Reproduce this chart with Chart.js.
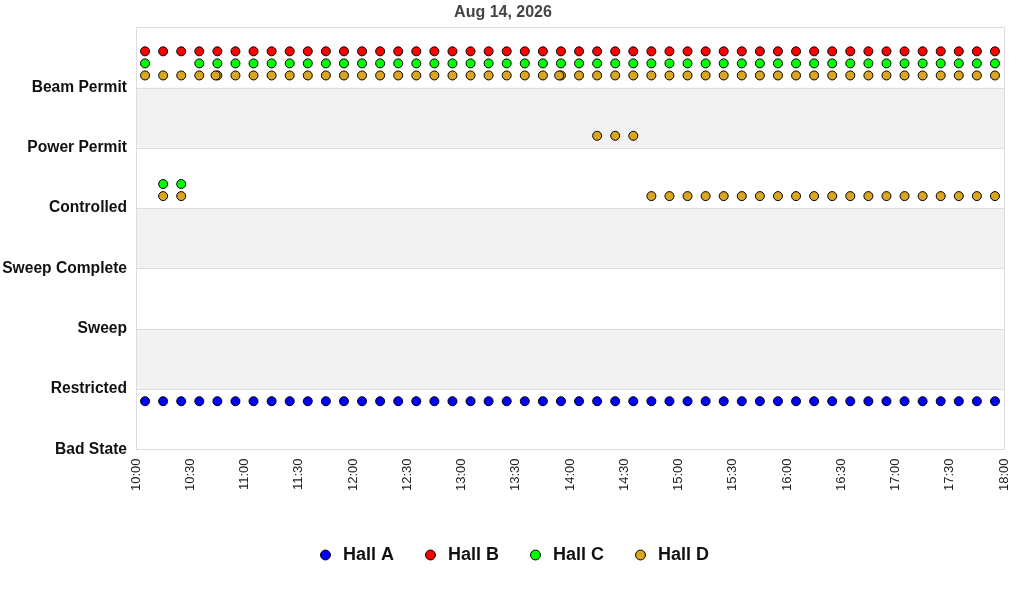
<!DOCTYPE html>
<html>
<head>
<meta charset="utf-8">
<script src="https://cdn.jsdelivr.net/npm/chart.js@4.4.1/dist/chart.umd.min.js"></script>
<style>
  html, body { margin: 0; padding: 0; background: #fff; }
  #wrap { width: 1024px; height: 600px; }
</style>
</head>
<body>
<div id="wrap"><canvas id="hall-chart"></canvas></div>
<script>
// state names, bottom to top (the y value of each is its index)
const states = ['Bad State', 'Restricted', 'Sweep', 'Sweep Complete', 'Controlled', 'Power Permit', 'Beam Permit'];

// sample times (every 10 minutes)
const sampleTimes = [
  '10:05', '10:15', '10:25', '10:35', '10:45', '10:55',
  '11:05', '11:15', '11:25', '11:35', '11:45', '11:55',
  '12:05', '12:15', '12:25', '12:35', '12:45', '12:55',
  '13:05', '13:15', '13:25', '13:35', '13:45', '13:55',
  '14:05', '14:15', '14:25', '14:35', '14:45', '14:55',
  '15:05', '15:15', '15:25', '15:35', '15:45', '15:55',
  '16:05', '16:15', '16:25', '16:35', '16:45', '16:55',
  '17:05', '17:15', '17:25', '17:35', '17:45', '17:55'
];

// state index per sample, one array per hall
const hallA = [0,0,0,0,0,0, 0,0,0,0,0,0, 0,0,0,0,0,0, 0,0,0,0,0,0, 0,0,0,0,0,0, 0,0,0,0,0,0, 0,0,0,0,0,0, 0,0,0,0,0,0];
const hallB = [6,6,6,6,6,6, 6,6,6,6,6,6, 6,6,6,6,6,6, 6,6,6,6,6,6, 6,6,6,6,6,6, 6,6,6,6,6,6, 6,6,6,6,6,6, 6,6,6,6,6,6];
const hallC = [6,4,4,6,6,6, 6,6,6,6,6,6, 6,6,6,6,6,6, 6,6,6,6,6,6, 6,6,6,6,6,6, 6,6,6,6,6,6, 6,6,6,6,6,6, 6,6,6,6,6,6];
const hallD = [6,6,6,6,6,6, 6,6,6,6,6,6, 6,6,6,6,6,6, 6,6,6,6,6,6, 6,6,6,6,6,6, 6,6,6,6,6,6, 6,6,6,6,6,6, 6,6,6,6,6,6];

// Hall D also reports a second state at these times
const hallDExtraTimes = [
  '10:15', '10:25', '10:44', '13:54', '14:15', '14:25', '14:35',
  '14:45', '14:55', '15:05', '15:15', '15:25', '15:35', '15:45', '15:55',
  '16:05', '16:15', '16:25', '16:35', '16:45', '16:55',
  '17:05', '17:15', '17:25', '17:35', '17:45', '17:55'
];
const hallDExtraStates = [
  4, 4, 6, 6, 5, 5, 5,
  4, 4, 4, 4, 4, 4, 4, 4,
  4, 4, 4, 4, 4, 4,
  4, 4, 4, 4, 4, 4
];

const halls = ['Hall A', 'Hall B', 'Hall C', 'Hall D'];
const hallColors = ['#0000ff', '#ff0000', '#00ff00', '#daa520'];
// each hall sits a little above its state line so they don't overlap
const hallOffsets = [0.8, 0.6, 0.4, 0.2];

const xMin = '10:00';
const xMax = '18:00';

const toMinutes = (t) => {
  const [h, m] = t.split(':').map(Number);
  return h * 60 + m;
};
const fmtTime = (v) => {
  const h = Math.floor(v / 60);
  const m = v % 60;
  return h + ':' + String(m).padStart(2, '0');
};

const toPoints = (times, vals, offset) =>
  times.map((t, i) => ({ x: toMinutes(t), y: vals[i] + offset }));

const pointsA = toPoints(sampleTimes, hallA, hallOffsets[0]);
const pointsB = toPoints(sampleTimes, hallB, hallOffsets[1]);
const pointsC = toPoints(sampleTimes, hallC, hallOffsets[2]);
const pointsD = toPoints(sampleTimes, hallD, hallOffsets[3])
  .concat(toPoints(hallDExtraTimes, hallDExtraStates, hallOffsets[3]));

const allPoints = [pointsA, pointsB, pointsC, pointsD];

// grey bands behind every other state row, plus the frame
const bandsPlugin = {
  id: 'bands',
  afterLayout(chart) {
    // nudge the legend a bit right, like the original
    const lg = chart.legend;
    if (lg) { lg.left += 10; lg.right += 10; }
  },
  beforeDatasetsDraw(chart) {
    const { ctx, chartArea, scales } = chart;
    const y = scales.y;
    ctx.save();
    ctx.fillStyle = '#f2f2f2';
    for (let v = 1; v < states.length; v += 2) {
      const top = y.getPixelForValue(v + 1);
      const bottom = y.getPixelForValue(v);
      ctx.fillRect(chartArea.left, top, chartArea.right - chartArea.left, bottom - top);
    }
    ctx.strokeStyle = '#dddddd';
    ctx.lineWidth = 1;
    for (let v = 1; v < states.length; v++) {
      const py = Math.round(y.getPixelForValue(v)) + 0.5;
      ctx.beginPath();
      ctx.moveTo(chartArea.left, py);
      ctx.lineTo(chartArea.right, py);
      ctx.stroke();
    }
    ctx.strokeRect(Math.round(chartArea.left) + 0.5, Math.round(chartArea.top) + 0.5,
      Math.round(chartArea.right - chartArea.left), Math.round(chartArea.bottom - chartArea.top));
    ctx.restore();
  }
};

const ctx = document.getElementById('hall-chart').getContext('2d');

new Chart(ctx, {
  type: 'scatter',
  data: {
    datasets: halls.map((name, i) => ({
      label: name,
      data: allPoints[i],
      backgroundColor: hallColors[i],
      borderColor: '#000000',
      borderWidth: 1,
      pointRadius: 4.5,
      pointHoverRadius: 4.5,
      pointStyle: 'circle'
    }))
  },
  options: {
    responsive: true,
    maintainAspectRatio: false,
    animation: false,
    layout: {
      padding: { left: 2, right: 20, top: 0, bottom: 26 }
    },
    plugins: {
      title: {
        display: true,
        text: 'Aug 14, 2026',
        color: '#444444',
        font: { family: 'Liberation Sans, Arial, sans-serif', size: 16, weight: 'bold' },
        padding: { top: 3, bottom: 5 }
      },
      legend: {
        position: 'bottom',
        labels: {
          usePointStyle: true,
          pointStyle: 'circle',
          boxWidth: 17,
          boxHeight: 7,
          padding: 28,
          color: '#111111',
          font: { family: 'Liberation Sans, Arial, sans-serif', size: 18, weight: 'bold' }
        }
      },
      tooltip: { enabled: false }
    },
    scales: {
      x: {
        type: 'linear',
        min: toMinutes(xMin),
        max: toMinutes(xMax),
        grid: { display: false },
        border: { display: false },
        afterFit: (scale) => { scale.height += 26; },
        ticks: {
          stepSize: 30,
          minRotation: 90,
          maxRotation: 90,
          padding: 1,
          color: '#222222',
          font: { family: 'Liberation Sans, Arial, sans-serif', size: 13 },
          callback: (v) => fmtTime(v)
        }
      },
      y: {
        type: 'linear',
        min: 0,
        max: states.length,
        grid: { display: false },
        border: { display: false },
        afterFit: (scale) => { scale.width = 134; },
        ticks: {
          stepSize: 1,
          padding: 1,
          color: '#111111',
          font: { family: 'Liberation Sans, Arial, sans-serif', size: 15.6, weight: 'bold' },
          callback: (v) => (states[v] !== undefined ? states[v] : '')
        }
      }
    }
  },
  plugins: [bandsPlugin]
});
</script>
</body>
</html>
